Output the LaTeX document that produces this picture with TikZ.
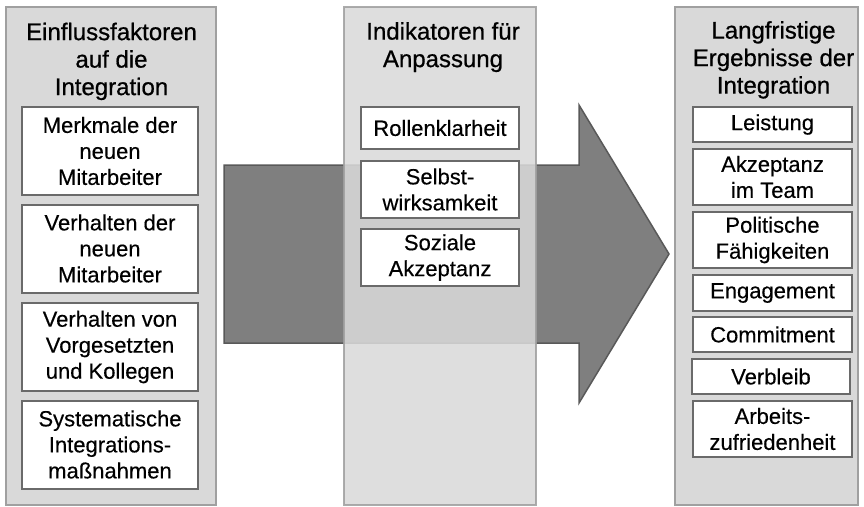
\documentclass[tikz,border=0pt]{standalone}
\usepackage{fontspec}
\setmainfont{Liberation Sans}
\newfontfamily\hdrfont{Liberation Sans}[FakeBold=0.7]
\newfontfamily\itemfont{Liberation Sans}[FakeBold=0.35]
\definecolor{colfill}{HTML}{D9D9D9}
\definecolor{colline}{HTML}{A0A0A0}
\definecolor{boxline}{HTML}{6A6A6A}
\definecolor{arrfill}{HTML}{7F7F7F}
\definecolor{arrline}{HTML}{595959}
\begin{document}
\begin{tikzpicture}[x=1pt,y=-1pt,
  column/.style={draw=colline, fill=colfill, line width=1.8pt, inner sep=0pt},
  header/.style={anchor=north, align=center, font=\hdrfont\fontsize{24}{27.5}\selectfont, inner sep=0pt},
  itembox/.style={draw=boxline, fill=white, line width=2pt, inner sep=0pt, align=center, font=\itemfont\fontsize{22}{26}\selectfont},
  leftbox/.style={itembox, minimum width=176pt, minimum height=88pt},
  midbox/.style={itembox, minimum width=158pt},
  rightbox/.style={itembox, minimum width=159pt}
]
\useasboundingbox (0,0) rectangle (864,506);

% columns
\node[column, minimum width=210pt, minimum height=498pt] (colL) at (111,256) {};
\node[column, minimum width=183pt, minimum height=498pt] (colR) at (766.5,256) {};

% big arrow
\coordinate (a1) at (224,165);
\coordinate (a2) at (579,165);
\coordinate (a3) at (579,105);
\coordinate (tip) at (669,254);
\coordinate (a5) at (579,403);
\coordinate (a6) at (579,343);
\coordinate (a7) at (224,343);
\draw[fill=arrfill, draw=arrline, line width=1.5pt, line join=miter]
  (a1) -- (a2) -- (a3) -- (tip) -- (a5) -- (a6) -- (a7) -- cycle;

% middle column (semi-transparent over the arrow)
\node[column, minimum width=192pt, minimum height=498pt, opacity=0.87] (colM) at (440,256) {};

% headers
\node[header] (hL) at (111.5,22.5) {Einflussfaktoren\\auf die\\Integration};
\node[header] (hM) at (443,22) {Indikatoren für\\Anpassung};
\node[header] (hR) at (773.5,21) {Langfristige\\Ergebnisse der\\Integration};

% left boxes
\node[leftbox] (l1) at (110,151) {Merkmale der\\neuen\\Mitarbeiter};
\node[leftbox] (l2) at (110,248.5) {Verhalten der\\neuen\\Mitarbeiter};
\node[leftbox] (l3) at (110,347) {Verhalten von\\Vorgesetzten\\und Kollegen};
\node[leftbox] (l4) at (110,444.5) {Systematische\\Integrations-\\maßnahmen};

% middle boxes
\node[midbox, minimum height=42pt] (m1) at (440,128) {Rollenklarheit};
\node[midbox, minimum height=57pt] (m2) at (440,189.5) {Selbst-\\wirksamkeit};
\node[midbox, minimum height=57pt] (m3) at (440,257.5) {Soziale\\Akzeptanz};

% right boxes
\node[rightbox, minimum height=35pt] (r1) at (772.5,124.5) {Leistung};
\node[rightbox, minimum height=56pt] (r2) at (772.5,177) {Akzeptanz\\im Team};
\node[rightbox, minimum height=56pt] (r3) at (772.5,240) {Politische\\Fähigkeiten};
\node[rightbox, minimum height=36pt] (r4) at (772.5,293) {Engagement};
\node[rightbox, minimum height=35pt] (r5) at (772.5,334.5) {Commitment};
\node[itembox, minimum width=158pt, minimum height=35pt] (r6) at (771,376.5) {Verbleib};
\node[rightbox, minimum height=56pt] (r7) at (772.5,429) {Arbeits-\\zufriedenheit};
\end{tikzpicture}
\end{document}
